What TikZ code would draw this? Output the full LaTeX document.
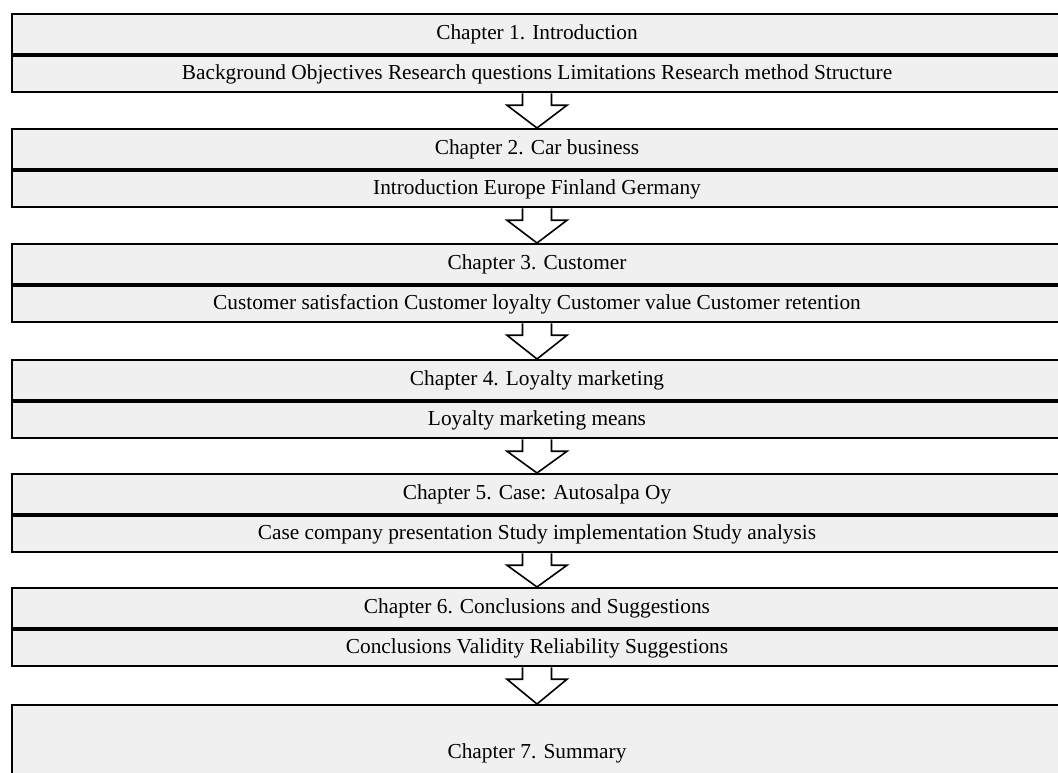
\documentclass[tikz,border=0pt]{standalone}
\usepackage{fontspec}
\setmainfont{Liberation Serif}
\usetikzlibrary{calc}
\definecolor{boxfill}{HTML}{F0F0F0}
\tikzset{
  rowbox/.style={draw=black, line width=1.6pt, fill=boxfill, anchor=north,
    minimum width=1050*0.75pt, inner sep=0pt, font=\fontsize{16}{19}\selectfont, text=black},
  hdr/.style={rowbox, minimum height=40*0.75pt},
  sub/.style={rowbox, minimum height=36*0.75pt},
  barrow/.style={draw=black, line width=1.2pt, fill=white, line join=miter}
}
\newcommand\blockarr[2]{%
  \draw[barrow] ($(#1.south)+(-14.5,0)$) -- ($(#1.south)+(-14.5,12)$) -- ($(#1.south)+(-30,12)$)
    -- (#2.north) -- ($(#1.south)+(30,12)$) -- ($(#1.south)+(14.5,12)$) -- ($(#1.south)+(14.5,0)$);}
\begin{document}
\begin{tikzpicture}[x=0.75pt,y=-0.75pt]
\useasboundingbox (0,0) rectangle (1058,773);
\clip (0,0) rectangle (1058,773);
\node[hdr] (c1) at (537,13) {Chapter 1. Introduction};
\node[sub] (s1) at (c1.south) {Background Objectives Research questions Limitations Research method Structure};
\node[hdr] (c2) at (537,128) {Chapter 2. Car business};
\node[sub] (s2) at (c2.south) {Introduction Europe Finland Germany};
\node[hdr] (c3) at (537,243) {Chapter 3. Customer};
\node[sub] (s3) at (c3.south) {Customer satisfaction Customer loyalty Customer value Customer retention};
\node[hdr] (c4) at (537,359) {Chapter 4. Loyalty marketing};
\node[sub] (s4) at (c4.south) {Loyalty marketing means};
\node[hdr] (c5) at (537,473) {Chapter 5. Case: Autosalpa Oy};
\node[sub] (s5) at (c5.south) {Case company presentation Study implementation Study analysis};
\node[hdr] (c6) at (537,587) {Chapter 6. Conclusions and Suggestions};
\node[sub] (s6) at (c6.south) {Conclusions Validity Reliability Suggestions};
\node[rowbox, minimum height=96*0.75pt] (c7) at (537,704) {Chapter 7. Summary};
\blockarr{s1}{c2}
\blockarr{s2}{c3}
\blockarr{s3}{c4}
\blockarr{s4}{c5}
\blockarr{s5}{c6}
\blockarr{s6}{c7}
\end{tikzpicture}
\end{document}
